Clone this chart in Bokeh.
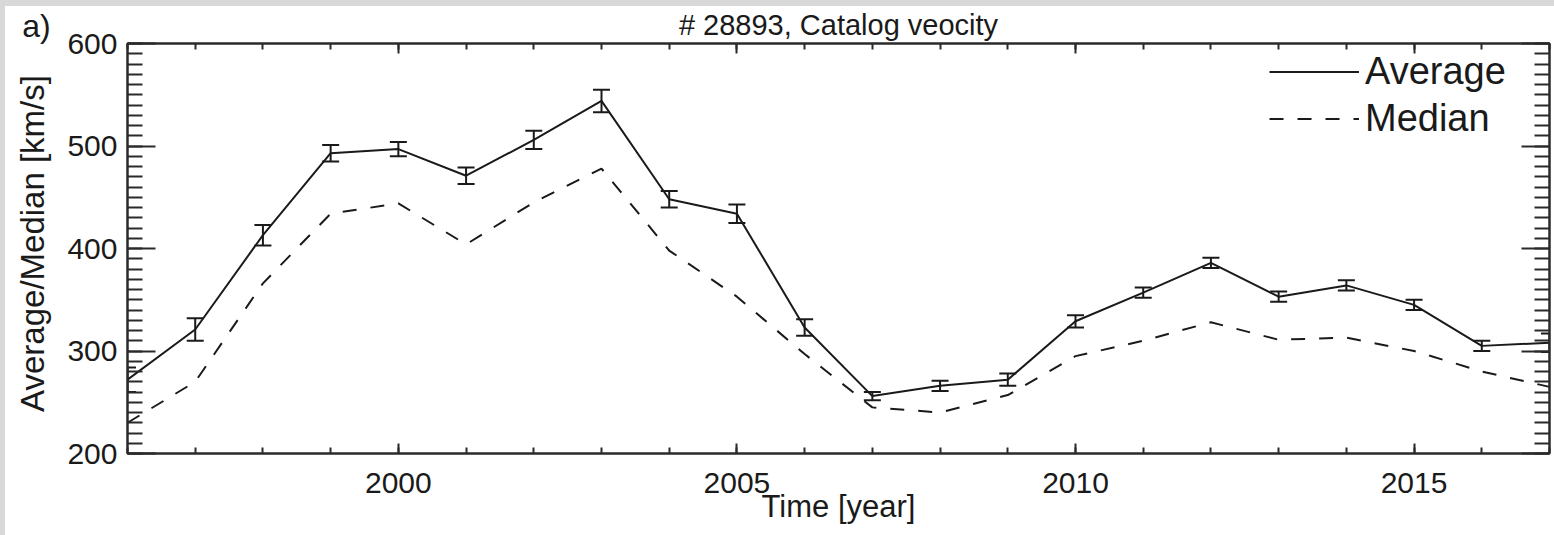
import math
from bokeh.plotting import figure
from bokeh.models import (LinearAxis, SingleIntervalTicker, Whisker, TeeHead,
                          ColumnDataSource, Legend, LegendItem, Label, Range1d, Title)
from bokeh.layouts import row
from bokeh.embed import file_html
from bokeh.resources import INLINE

# ---- data ----
years = [1996, 1997, 1998, 1999, 2000, 2001, 2002, 2003, 2004, 2005, 2006,
         2007, 2008, 2009, 2010, 2011, 2012, 2013, 2014, 2015, 2016, 2017]
average = [272, 321, 413, 493, 497, 471, 506, 544, 448, 434, 323,
           256, 266, 272, 329, 357, 386, 353, 364, 345, 305, 308]
avg_err = [12, 11, 10, 8, 7, 8, 9, 11, 8, 9, 8,
           4, 5, 6, 6, 5, 5, 5, 5, 5, 5, 9]
median = [230, 270, 366, 434, 444, 404, 445, 478, 398, 353, 297,
          245, 240, 257, 295, 310, 328, 311, 313, 300, 280, 265]
y_major = [200, 300, 400, 500, 600]
x_major = [2000, 2005, 2010, 2015]
title_text = "# 28893, Catalog veocity"
panel_tag = "a)"
x_label = "Time [year]"
y_label = "Average/Median [km/s]"

FONT = "Liberation Sans"
INK = "#1a1a1a"
AX = "#2a2a2a"

src = ColumnDataSource(dict(
    x=years, avg=average, med=median,
    upper=[a + e for a, e in zip(average, avg_err)],
    lower=[a - e for a, e in zip(average, avg_err)],
))

# ---------- left strip: panel tag + y-axis title ----------
SIDE_W, SIDE_H = 53, 529
side = figure(width=SIDE_W, height=SIDE_H,
              x_range=Range1d(0, SIDE_W), y_range=Range1d(0, SIDE_H),
              x_axis_type=None, y_axis_type=None,
              output_backend="svg", toolbar_location=None, min_border=0)
side.frame_align = False
side.margin = (6, 0, 0, 5)
side.outline_line_color = None
side.background_fill_color = "white"
side.border_fill_color = "white"
side.add_layout(Label(x=31, y=SIDE_H - 19, text=panel_tag,
                      text_align="center", text_baseline="middle",
                      text_font=FONT, text_font_size="32px", text_color=INK))
side.add_layout(Label(x=27, y=SIDE_H - 237, text=y_label, angle=math.pi / 2,
                      text_align="center", text_baseline="middle",
                      text_font=FONT, text_font_size="33px", text_color=INK))

# ---------- main plot ----------
p = figure(width=1496, height=529,
           x_range=Range1d(1996, 2017), y_range=Range1d(200, 600),
           x_axis_type=None, y_axis_type=None,
           output_backend="svg", toolbar_location=None,
           min_border_left=69, min_border_right=5,
           min_border_top=37, min_border_bottom=82)
p.frame_align = False
p.margin = (6, 0, 0, 0)
p.background_fill_color = "white"
p.border_fill_color = "white"
p.outline_line_color = AX
p.outline_line_width = 2
p.title = Title(text=title_text, align="center", vertical_align="top",
                text_font=FONT, text_font_size="29px", text_font_style="normal",
                text_color=INK, standoff=2, offset=0)


def style_axis(ax, tick_in, minor_in):
    ax.axis_line_color = AX
    ax.axis_line_width = 2
    ax.major_tick_line_color = AX
    ax.minor_tick_line_color = AX
    ax.major_tick_line_width = 2
    ax.minor_tick_line_width = 2
    ax.major_tick_in = tick_in
    ax.major_tick_out = 0
    ax.minor_tick_in = minor_in
    ax.minor_tick_out = 0
    ax.major_label_text_font = FONT
    ax.major_label_text_color = INK
    ax.axis_label_text_font = FONT
    ax.axis_label_text_font_style = "normal"
    ax.axis_label_text_color = INK


xb = LinearAxis(ticker=SingleIntervalTicker(interval=5, num_minor_ticks=5))
style_axis(xb, 10, 6)
xb.major_label_text_font_size = "30px"
xb.major_label_standoff = 19
xb.axis_label = x_label
xb.axis_label_text_font_size = "31px"
xb.axis_label_standoff = -7
p.add_layout(xb, "below")

xt = LinearAxis(ticker=SingleIntervalTicker(interval=5, num_minor_ticks=5))
style_axis(xt, 10, 6)
xt.major_label_overrides = {v: "" for v in x_major}
xt.major_label_standoff = 0
p.add_layout(xt, "above")

yl = LinearAxis(ticker=SingleIntervalTicker(interval=100, num_minor_ticks=10))
style_axis(yl, 28, 15)
yl.major_label_text_font_size = "30px"
yl.major_label_standoff = 10
p.add_layout(yl, "left")

yr = LinearAxis(ticker=SingleIntervalTicker(interval=100, num_minor_ticks=10))
style_axis(yr, 28, 15)
yr.major_label_overrides = {v: "" for v in y_major}
yr.major_label_standoff = 0
p.add_layout(yr, "right")

r_avg = p.line("x", "avg", source=src, line_color=INK, line_width=2)
r_med = p.line("x", "med", source=src, line_color=INK, line_width=2,
               line_dash="14 14")

p.add_layout(Whisker(base="x", upper="upper", lower="lower", source=src,
                     dimension="height", line_color=INK, line_width=2,
                     upper_head=TeeHead(size=17, line_width=2, line_color=INK),
                     lower_head=TeeHead(size=17, line_width=2, line_color=INK)))

legend = Legend(items=[LegendItem(label="Average", renderers=[r_avg]),
                       LegendItem(label="Median", renderers=[r_med])],
                location="top_right", margin=0, padding=5, spacing=0,
                glyph_width=90, glyph_height=47, label_height=47,
                label_width=179, label_standoff=6,
                label_text_font=FONT, label_text_font_size="38px",
                label_text_color=INK,
                background_fill_alpha=0, border_line_alpha=0)
p.add_layout(legend)

bg = ("linear-gradient(to bottom, #d8d8d8 6px, transparent 6px), "
      "linear-gradient(to right, #d8d8d8 5px, #ffffff 5px)")
layout = row(side, p, width=1554, height=535, spacing=0,
             styles={"background": bg})

with open("out.html", "w") as f:
    f.write(file_html(layout, INLINE))
